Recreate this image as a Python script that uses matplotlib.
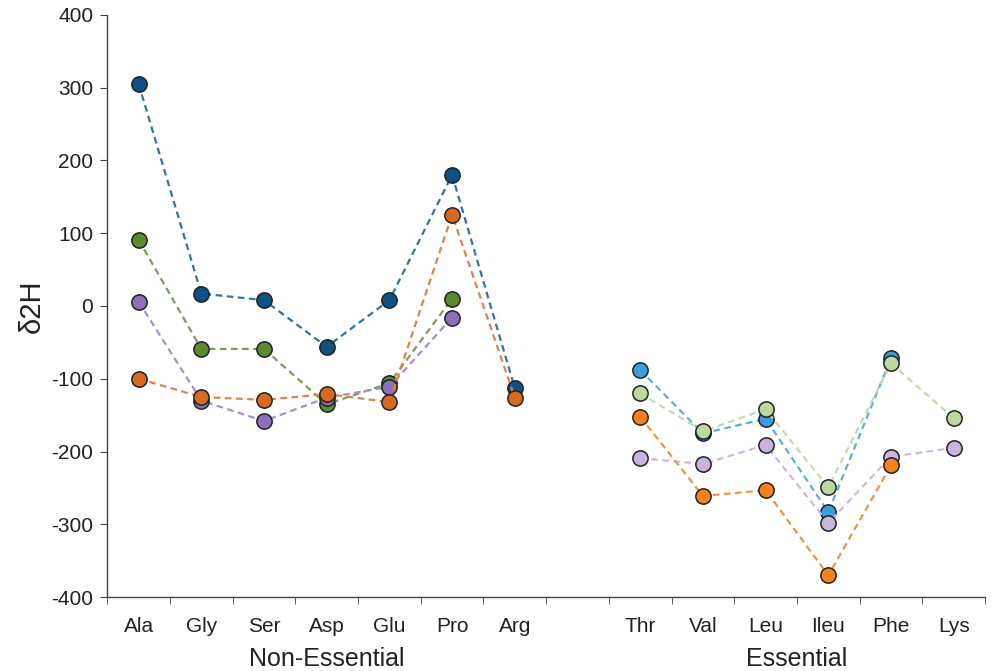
import numpy as np
import matplotlib
matplotlib.use("Agg")
import matplotlib.pyplot as plt

plt.rcParams['font.family'] = ['Liberation Sans', 'DejaVu Sans']

# Amino acid categories (blank slot separates the two groups)
non_essential = ["Ala", "Gly", "Ser", "Asp", "Glu", "Pro", "Arg"]
essential = ["Thr", "Val", "Leu", "Ileu", "Phe", "Lys"]
categories = non_essential + [""] + essential

# Non-essential amino acid delta-2H values (None = not measured)
ne_blue = [305, 17, 8, -56, 8, 180, -113]
ne_green = [91, -59, -59, -135, -106, 10, None]
ne_purple = [6, -130, -158, -126, -111, -16, None]
ne_orange = [-100, -125, -129, -121, -132, 125, -126]

# Essential amino acid delta-2H values
e_blue = [-88, -175, -155, -283, -72, None]
e_lavender = [-209, -217, -191, -298, -207, -195]
e_orange = [-152, -261, -253, -370, -219, None]
e_green = [-120, -172, -142, -249, -79, -154]

ne_series = [
    (ne_blue, "#0d5283", "#2f74a8"),
    (ne_green, "#5b8a2f", "#7c9c5c"),
    (ne_purple, "#8c6fb8", "#a58fcc"),
    (ne_orange, "#d66a1e", "#e0824a"),
]
e_series = [
    (e_blue, "#3a9fdc", "#5ab0e2"),
    (e_lavender, "#c9b4de", "#cbbbe0"),
    (e_orange, "#f7821c", "#f5913f"),
    (e_green, "#bcd9a0", "#c4dcab"),
]

fig = plt.figure(figsize=(9.93, 6.71), dpi=100)
ax = fig.add_axes([0.108, 0.110, 0.884, 0.868])


def draw(xs, vals, face, line):
    pts = [(x, v) for x, v in zip(xs, vals) if v is not None]
    px = [p[0] for p in pts]
    py = [p[1] for p in pts]
    ax.plot(px, py, linestyle=(0, (3, 2)), color=line, linewidth=1.6,
            marker="o", markersize=11, markerfacecolor=face,
            markeredgecolor="#222222", markeredgewidth=1.1, zorder=3)


ne_x = np.arange(len(non_essential))
e_x = np.arange(len(essential)) + len(non_essential) + 1
for vals, face, line in ne_series:
    draw(ne_x, vals, face, line)
for vals, face, line in e_series:
    draw(e_x, vals, face, line)

ax.set_xlim(-0.5, len(categories) - 0.5)
ax.set_ylim(-400, 400)
ax.set_yticks(np.arange(-400, 401, 100))
ax.set_yticklabels([str(v) for v in range(-400, 401, 100)], fontsize=15,
                   color="#222222")

ax.set_xticks(np.arange(len(categories)))
ax.set_xticklabels(categories, fontsize=15, color="#222222")
ax.set_xticks(np.arange(-0.5, len(categories), 1.0), minor=True)
ax.tick_params(axis="x", which="major", length=0, pad=14)
ax.tick_params(axis="x", which="minor", length=5, color="#444444")
ax.tick_params(axis="y", length=5, color="#444444", pad=5)

for s in ["top", "right"]:
    ax.spines[s].set_visible(False)
for s in ["left", "bottom"]:
    ax.spines[s].set_color("#444444")
    ax.spines[s].set_linewidth(1.0)

ax.set_ylabel("δ2H", fontsize=21, labelpad=4, color="#222222")

ax.text(np.mean(ne_x), -0.085, "Non-Essential", transform=ax.get_xaxis_transform(),
        ha="center", va="top", fontsize=18, color="#222222")
ax.text(np.mean(e_x), -0.085, "Essential", transform=ax.get_xaxis_transform(),
        ha="center", va="top", fontsize=18, color="#222222")

fig.savefig("out.png", dpi=100)
